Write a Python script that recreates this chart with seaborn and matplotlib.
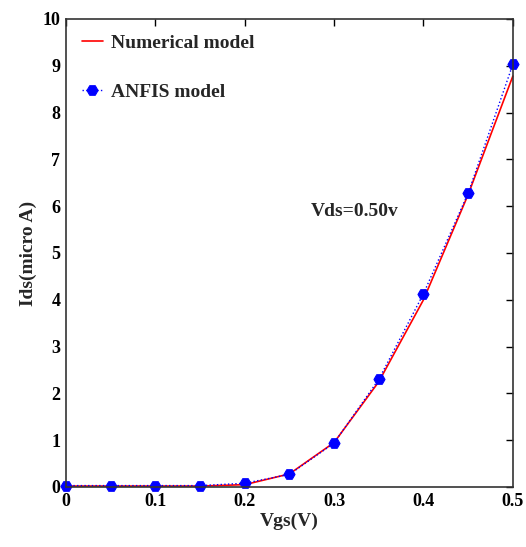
import numpy as np
import pandas as pd
import matplotlib
matplotlib.use("Agg")
import matplotlib.pyplot as plt
import seaborn as sns

# Datos
vgs = [0.0, 0.05, 0.10, 0.15, 0.20, 0.25, 0.30, 0.35, 0.40, 0.45, 0.50]
ids_numerical = [0.02, 0.02, 0.02, 0.02, 0.05, 0.28, 0.95, 2.25, 4.00, 6.25, 8.78]
ids_anfis = [0.03, 0.03, 0.03, 0.03, 0.08, 0.27, 0.94, 2.30, 4.13, 6.28, 9.03]

df = pd.DataFrame({"Vgs": vgs, "num": ids_numerical, "anfis": ids_anfis})

sns.set_style("white")
plt.rcParams["font.family"] = ["Liberation Serif", "DejaVu Serif"]
plt.rcParams["font.weight"] = "bold"

fig = plt.figure(figsize=(5.26, 5.47), dpi=100)
ax = fig.add_axes([0.1255, 0.1097, 0.8495, 0.8556])

sns.lineplot(data=df, x="Vgs", y="num", ax=ax, color="red", linewidth=1.2,
             label="Numerical model")
sns.lineplot(data=df, x="Vgs", y="anfis", ax=ax, color="blue", linewidth=1.0,
             linestyle=":", marker="H", markersize=8, markeredgecolor="blue",
             label="ANFIS model")
for ln in ax.lines:
    ln.set_clip_on(False)

ax.set_xlim(0, 0.5)
ax.set_ylim(0, 10)
ax.set_xticks([0, 0.1, 0.2, 0.3, 0.4, 0.5])
ax.set_xticklabels(["0", "0.1", "0.2", "0.3", "0.4", "0.5"])
ax.set_yticks(range(0, 11))
ax.tick_params(direction="in", top=True, right=True, length=5, width=1,
               labelsize=13, colors="black", pad=4)
for lab in ax.get_xticklabels() + ax.get_yticklabels():
    lab.set_fontweight("bold")
for s in ax.spines.values():
    s.set_color("#333333")
    s.set_linewidth(1.2)

ax.set_xlabel("Vgs(V)", fontsize=14, fontweight="bold", labelpad=2)
ax.set_ylabel("Ids(micro A)", fontsize=14, fontweight="bold", labelpad=4)
ax.text(0.323, 5.88, "Vds=0.50v", fontsize=14, fontweight="bold", ha="center", va="center")

leg = ax.legend(loc="upper left", frameon=False, fontsize=14, handlelength=1.1,
                handletextpad=0.4, labelspacing=1.6, borderaxespad=0.4)
for t in leg.get_texts():
    t.set_fontweight("bold")

fig.savefig("out.png", dpi=100)
